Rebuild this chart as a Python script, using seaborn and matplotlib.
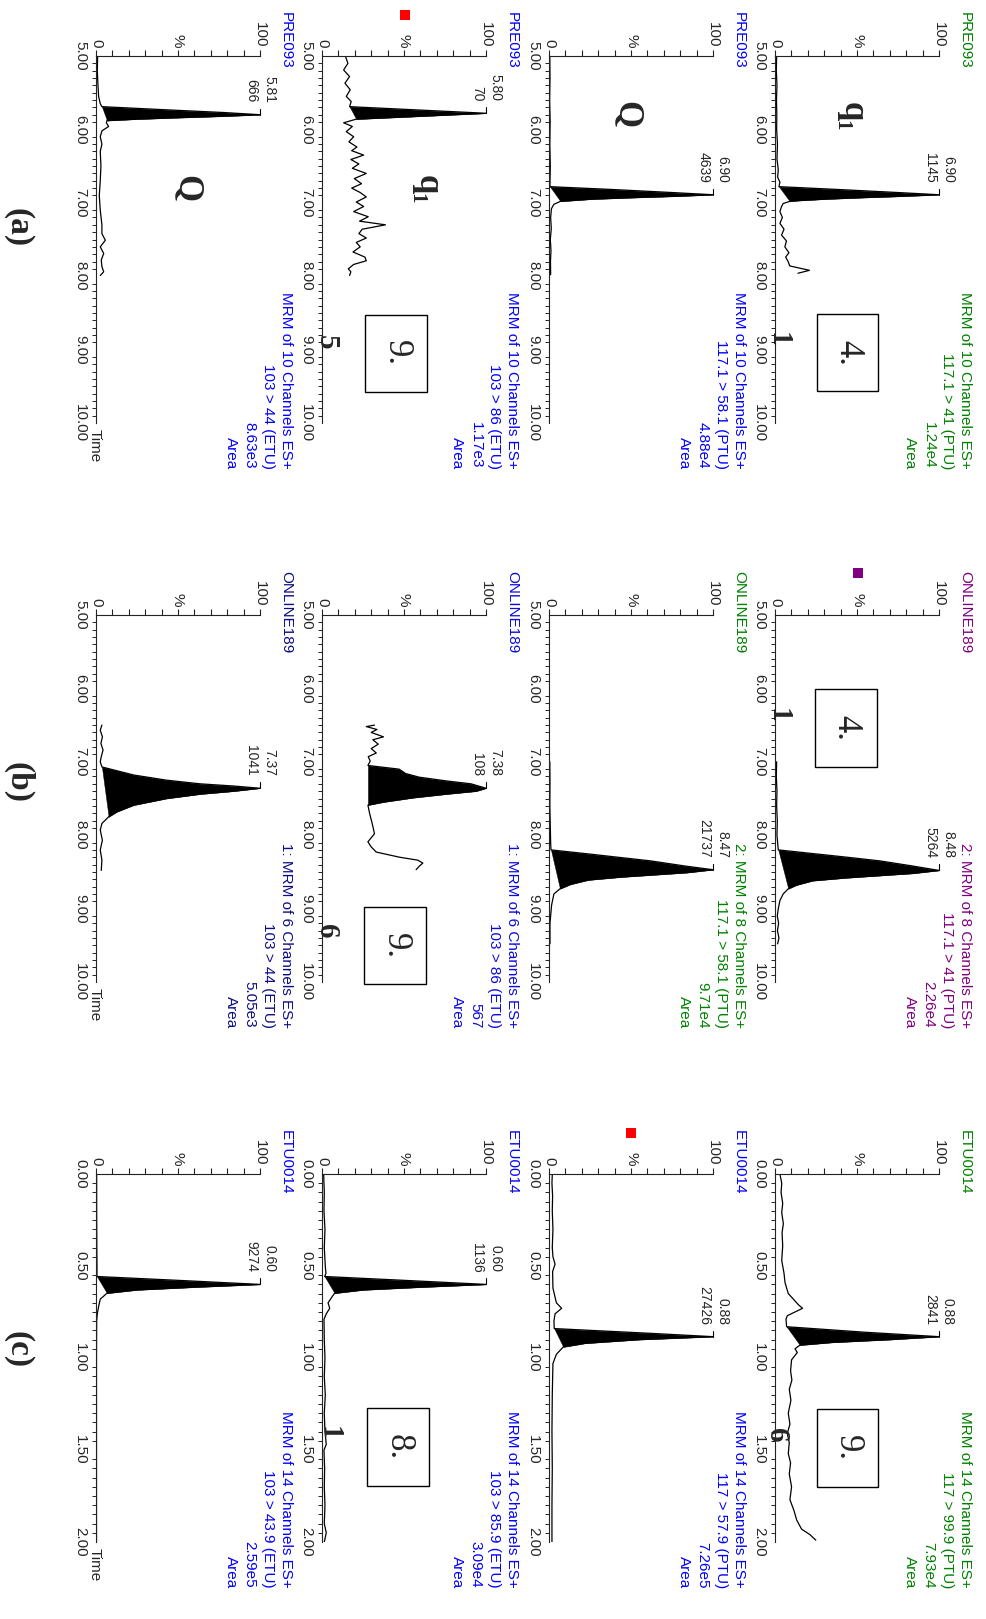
import numpy as np
import matplotlib
matplotlib.use("Agg")
import matplotlib.pyplot as plt
from matplotlib.patches import Rectangle
from matplotlib.ticker import MultipleLocator
import seaborn as sns

sns.set_style("white")
plt.rcParams['font.family'] = ['Liberation Sans', 'DejaVu Sans']

# ---------------- data ----------------
samples = ["PRE093", "ONLINE189", "ETU0014"]

hdr_a1 = ["MRM of 10 Channels ES+", "117.1 > 41 (PTU)", "1.24e4", "Area"]
hdr_a2 = ["MRM of 10 Channels ES+", "117.1 > 58.1 (PTU)", "4.88e4", "Area"]
hdr_a3 = ["MRM of 10 Channels ES+", "103 > 86 (ETU)", "1.17e3", "Area"]
hdr_a4 = ["MRM of 10 Channels ES+", "103 > 44 (ETU)", "8.63e3", "Area"]
hdr_b1 = ["2: MRM of 8 Channels ES+", "117.1 > 41 (PTU)", "2.26e4", "Area"]
hdr_b2 = ["2: MRM of 8 Channels ES+", "117.1 > 58.1 (PTU)", "9.71e4", "Area"]
hdr_b3 = ["1: MRM of 6 Channels ES+", "103 > 86 (ETU)", "567", "Area"]
hdr_b4 = ["1: MRM of 6 Channels ES+", "103 > 44 (ETU)", "5.05e3", "Area"]
hdr_c1 = ["MRM of 14 Channels ES+", "117 > 99.9 (PTU)", "7.93e4", "Area"]
hdr_c2 = ["MRM of 14 Channels ES+", "117 > 57.9 (PTU)", "7.26e5", "Area"]
hdr_c3 = ["MRM of 14 Channels ES+", "103 > 85.9 (ETU)", "3.09e4", "Area"]
hdr_c4 = ["MRM of 14 Channels ES+", "103 > 43.9 (ETU)", "2.59e5", "Area"]

peak_rt = ["6.90", "6.90", "5.80", "5.81", "8.48", "8.47", "7.38", "7.37",
           "0.88", "0.88", "0.60", "0.60"]
peak_val = ["1145", "4639", "70", "666", "5264", "21737", "108", "1041",
            "2841", "27426", "1136", "9274"]

# time (min) and relative intensity (%) of each trace
t_a1 = [5.00, 5.20, 5.40, 5.60, 5.80, 6.00, 6.20, 6.40, 6.55, 6.65, 6.72, 6.78, 6.82, 6.86,
        6.89, 6.91, 6.93, 6.95, 6.97, 6.98, 7.01, 7.05, 7.12, 7.20, 7.28, 7.36, 7.44, 7.52,
        7.60, 7.68, 7.74, 7.80, 7.86, 7.92, 7.96]
i_a1 = [1.0, 0.8, 1.2, 0.9, 1.1, 1.0, 1.5, 1.2, 2.0, 1.6, 3.0, 2.4, 40, 75,
        100, 78, 52, 30, 14, 9, 5, 4, 3, 4.5, 3, 5.5, 4, 7,
        6, 8.5, 6.5, 8, 9, 21, 14]
fill_a1 = [6.78, 6.98]

t_a2 = [5.00, 5.30, 5.60, 5.90, 6.20, 6.50, 6.70, 6.78, 6.82, 6.86, 6.89, 6.91, 6.93, 6.95,
        6.98, 7.02, 7.08, 7.20, 7.35, 7.50, 7.65, 7.80, 7.98]
i_a2 = [0.5, 0.6, 0.4, 0.7, 0.5, 0.8, 0.6, 0.6, 40, 75, 100, 78, 50, 26,
        7, 3, 1.5, 1.0, 1.4, 0.8, 1.2, 0.9, 1.0]
fill_a2 = [6.78, 6.98]

t_a3 = [5.01, 5.10, 5.19, 5.28, 5.37, 5.46, 5.55, 5.62, 5.69, 5.78, 5.86, 5.91, 5.96, 6.03,
        6.10, 6.17, 6.24, 6.29, 6.35, 6.41, 6.47, 6.53, 6.60, 6.67, 6.74, 6.80, 6.86, 6.92,
        6.99, 7.05, 7.12, 7.19, 7.25, 7.30, 7.36, 7.42, 7.48, 7.54, 7.60, 7.67, 7.74, 7.79,
        7.84, 7.90, 7.94, 7.99]
i_a3 = [14.4, 15.8, 13.2, 16.8, 14.0, 17.2, 14.8, 17.8, 16.8, 100, 20.9, 13.2, 18.5, 14.8,
        19.3, 16.4, 21.3, 18.1, 25.4, 17.6, 22.5, 18.5, 27.0, 19.7, 24.1, 18.1, 23.3, 27.0,
        20.9, 25.4, 19.3, 28.2, 22.9, 38.7, 24.5, 22.5, 27.0, 20.9, 23.3, 18.9, 26.2, 27.0,
        19.3, 16.0, 17.6, 16.8]
fill_a3 = [5.69, 5.86]

t_a4 = [5.00, 5.20, 5.40, 5.55, 5.65, 5.69, 5.73, 5.77, 5.80, 5.82, 5.84, 5.86, 5.88, 5.91,
        5.96, 6.02, 6.10, 6.20, 6.30, 6.50, 6.70, 6.90, 7.10, 7.30, 7.42, 7.51, 7.60, 7.69,
        7.78, 7.87, 7.94, 7.99]
i_a4 = [1.0, 0.8, 1.2, 1.6, 2.6, 3.6, 40, 78, 100, 78, 50, 25, 6.7, 6.3,
        7.7, 3.6, 2.6, 3.6, 2.6, 3.0, 2.6, 2.0, 2.6, 3.6, 3.6, 5.7, 2.6, 4.7,
        3.2, 3.6, 4.7, 2.6]
fill_a4 = [5.69, 5.88]

t_b1 = [7.00, 7.20, 7.40, 7.60, 7.80, 8.00, 8.10, 8.20, 8.25, 8.30, 8.35, 8.42, 8.48, 8.52,
        8.55, 8.58, 8.62, 8.68, 8.73, 8.80, 8.89, 9.00, 9.10, 9.20, 9.30, 9.40, 9.48]
i_b1 = [1.0, 0.8, 1.2, 1.0, 1.4, 1.2, 1.6, 2.0, 23, 44, 64, 84, 100, 84,
        64, 44, 23, 13, 8.1, 5, 3, 2.0, 1.4, 2.2, 1.5, 2.4, 1.6]
fill_b1 = [8.20, 8.73]

t_b2 = [7.00, 7.30, 7.60, 7.90, 8.10, 8.20, 8.25, 8.30, 8.35, 8.42, 8.47, 8.51, 8.54, 8.57,
        8.61, 8.67, 8.73, 8.80, 8.95, 9.20, 9.48]
i_b2 = [0.5, 0.6, 0.5, 0.8, 1.0, 1.2, 22, 42, 62, 83, 100, 84, 64, 44,
        24, 13, 6.7, 3.0, 1.6, 0.6, 0.6]
fill_b2 = [8.20, 8.73]

t_b3 = [6.50, 6.52, 6.56, 6.60, 6.66, 6.70, 6.76, 6.82, 6.88, 6.93, 6.99, 7.05, 7.10, 7.16,
        7.21, 7.26, 7.30, 7.36, 7.40, 7.44, 7.49, 7.55, 7.59, 7.70, 7.84, 7.98, 8.09, 8.16,
        8.23, 8.30, 8.34, 8.38, 8.42, 8.47]
i_b3 = [32.0, 27.0, 33.5, 30.0, 37.5, 31.0, 34.3, 30.0, 33.1, 28.2, 29.4, 28.0, 47.0, 51.0,
        59.4, 75.7, 90.9, 100, 94, 75.7, 55.4, 37.1, 28.0, 29.0, 30.6, 32.0, 28.0, 30.0,
        33.1, 47.3, 58.4, 61.5, 59.4, 57.4]
fill_b3 = [7.05, 7.59]

t_b4 = [6.50, 6.57, 6.66, 6.75, 6.84, 6.93, 7.00, 7.07, 7.18, 7.25, 7.30, 7.33, 7.36, 7.40,
        7.44, 7.50, 7.59, 7.68, 7.75, 7.84, 7.93, 8.07, 8.20, 8.34, 8.48]
i_b4 = [3.6, 2.6, 3.9, 3.0, 4.3, 3.2, 2.6, 3.6, 23, 43, 63.5, 84, 100, 84,
        63.5, 43, 23, 12.8, 7.7, 3.6, 2.6, 3.9, 2.6, 3.6, 3.2]
fill_b4 = [7.07, 7.75]

t_c1 = [0.00, 0.05, 0.10, 0.16, 0.21, 0.27, 0.32, 0.39, 0.47, 0.54, 0.59, 0.65, 0.68, 0.71,
        0.73, 0.75, 0.77, 0.79, 0.83, 0.86, 0.884, 0.90, 0.915, 0.93, 0.95, 0.97, 1.01, 1.07,
        1.12, 1.17, 1.23, 1.30, 1.36, 1.41, 1.46, 1.52, 1.57, 1.63, 1.70, 1.77, 1.83, 1.88,
        1.93, 1.96, 1.99]
i_c1 = [3.0, 4.1, 3.7, 4.7, 4.1, 5.1, 4.3, 4.7, 4.1, 5.5, 6.1, 8.1, 11.2, 14.2,
        16.8, 12.2, 7.5, 6.7, 7.1, 55, 100, 70, 35, 15.2, 12.2, 13.6, 10.1, 9.5,
        10.3, 8.7, 9.7, 8.1, 9.1, 7.5, 8.7, 8.1, 9.5, 8.7, 10.1, 9.1, 11.6, 13.2,
        16.2, 21.3, 24.9]
fill_c1 = [0.83, 0.93]

t_c2 = [0.00, 0.05, 0.12, 0.20, 0.30, 0.40, 0.45, 0.49, 0.53, 0.62, 0.70, 0.73, 0.76, 0.80,
        0.84, 0.865, 0.884, 0.90, 0.92, 0.94, 0.98, 1.03, 1.20, 1.40, 1.60, 1.80, 2.00]
i_c2 = [2.0, 1.8, 2.2, 2.0, 2.4, 2.0, 2.4, 3.7, 2.2, 2.4, 4.5, 7.7, 3.7, 3.0,
        3.2, 60, 100, 55, 22, 8.7, 4.5, 2.4, 2.0, 1.8, 2.0, 1.8, 1.8]
fill_c2 = [0.84, 0.94]

t_c3 = [0.00, 0.10, 0.20, 0.30, 0.40, 0.50, 0.54, 0.557, 0.58, 0.60, 0.615, 0.63, 0.648, 0.66,
        0.70, 0.73, 0.76, 0.79, 0.90, 1.00, 1.10, 1.20, 1.30, 1.40, 1.47, 1.50, 1.60, 1.70,
        1.80, 1.90, 1.95, 2.00]
i_c3 = [1.0, 1.4, 1.2, 1.8, 1.4, 2.0, 2.4, 1.6, 55, 100, 60, 25, 7.7, 6.7,
        3.7, 4.7, 2.6, 1.2, 1.4, 1.8, 1.4, 2.0, 1.4, 1.8, 2.6, 1.2, 1.6, 1.4,
        1.8, 1.4, 2.6, 1.4]
fill_c3 = [0.557, 0.648]

t_c4 = [0.00, 0.20, 0.40, 0.50, 0.557, 0.58, 0.60, 0.615, 0.63, 0.648, 0.68, 0.72, 0.76, 0.80,
        1.00, 1.50, 2.00]
i_c4 = [0.4, 0.4, 0.5, 0.6, 0.6, 55, 100, 60, 25, 6.7, 2.6, 1.6, 0.8, 0.4,
        0.3, 0.3, 0.3]
fill_c4 = [0.557, 0.648]

time_ranges = [(5.0, 10.0, 1.0, 0.1), (5.0, 10.0, 1.0, 0.1), (0.0, 2.0, 0.5, 0.05)]

# ---------------- layout ----------------
W, H = 986, 1619
fig = plt.figure(figsize=(W / 100, H / 100), dpi=100)

col_top = [56, 615, 1174]
col_h = [367, 367, 368]
row_x0 = [775, 549, 322, 96]
AX_W = 164

GREEN, BLUE, PURPLE, NAVY = "#008000", "#0000ff", "#800080", "#0c0c86"

traces = [
    [(t_a1, i_a1, fill_a1, hdr_a1, GREEN), (t_a2, i_a2, fill_a2, hdr_a2, BLUE),
     (t_a3, i_a3, fill_a3, hdr_a3, BLUE), (t_a4, i_a4, fill_a4, hdr_a4, BLUE)],
    [(t_b1, i_b1, fill_b1, hdr_b1, PURPLE), (t_b2, i_b2, fill_b2, hdr_b2, GREEN),
     (t_b3, i_b3, fill_b3, hdr_b3, "#0a0ae0"), (t_b4, i_b4, fill_b4, hdr_b4, NAVY)],
    [(t_c1, i_c1, fill_c1, hdr_c1, GREEN), (t_c2, i_c2, fill_c2, hdr_c2, BLUE),
     (t_c3, i_c3, fill_c3, hdr_c3, BLUE), (t_c4, i_c4, fill_c4, hdr_c4, BLUE)],
]


def rtext(px, py, s, ha="left", va="center", **kw):
    return fig.text(px / W, 1 - py / H, s, rotation=-90, rotation_mode="anchor",
                    ha=ha, va=va, **kw)


SERIF = ['Liberation Serif', 'DejaVu Serif']

k = 0
for c in range(3):
    tmin, tmax, tstep, tminor = time_ranges[c]
    ytop, h = col_top[c], col_h[c]
    for r in range(4):
        times, ints, fr, hdr, color = traces[c][r]
        x0 = row_x0[r]
        ax = fig.add_axes([x0 / W, 1 - (ytop + h) / H, AX_W / W, h / H])
        ax.patch.set_alpha(0)
        sns.lineplot(x=ints, y=times, orient="y", sort=False, estimator=None,
                     color="black", lw=0.9, ax=ax)
        t = np.array(times, float)
        v = np.array(ints, float)
        m = (t >= fr[0] - 1e-9) & (t <= fr[1] + 1e-9)
        v0 = v[np.argmin(abs(t - fr[0]))]
        v1 = v[np.argmin(abs(t - fr[1]))]
        base = v0 + (t[m] - fr[0]) * (v1 - v0) / (fr[1] - fr[0])
        ax.fill_betweenx(t[m], base, v[m], color="black", lw=0.3)

        ax.set_xlim(0, 100)
        ax.set_ylim(tmax, tmin)
        ax.set_xlabel("")
        ax.set_ylabel("")
        for s in ("right", "bottom"):
            ax.spines[s].set_visible(False)
        for s in ("left", "top"):
            ax.spines[s].set_linewidth(0.8)
            ax.spines[s].set_color("#222222")

        # time axis
        yt = np.round(np.arange(tmin, tmax + 1e-6, tstep), 2)
        ax.set_yticks(yt, [f"{x:.2f}" for x in yt], rotation=-90, va="center",
                      ha="right", fontsize=11)
        ax.yaxis.set_minor_locator(MultipleLocator(tminor))
        ax.tick_params(axis="y", which="major", direction="out", length=5, width=0.8,
                       pad=1.5, color="#222222")
        ax.tick_params(axis="y", which="minor", direction="out", length=3, width=0.7,
                       color="#222222", left=True)

        # intensity axis
        ax.xaxis.set_ticks_position("top")
        xt = np.arange(0, 101, 10)
        xl = ["0", "", "", "", "", "%", "", "", "", "", "100"]
        ax.set_xticks(xt, xl, rotation=-90, fontsize=11)
        ax.tick_params(axis="x", which="major", direction="out", length=4, width=0.8,
                       pad=2, top=True, bottom=False, labeltop=True, labelbottom=False,
                       color="#222222")

        # peak label with its small marker
        ip = int(np.argmax(v))
        dt = 6 * (tmax - tmin) / h
        ax.plot([v[ip], v[ip]], [t[ip], t[ip] - dt], color="black", lw=0.8,
                clip_on=False)
        ax.annotate(peak_rt[k], xy=(v[ip], t[ip]), xytext=(9, 12),
                    textcoords="offset pixels", rotation=-90, rotation_mode="anchor",
                    ha="right", va="center", fontsize=10, annotation_clip=False)
        ax.annotate(peak_val[k], xy=(v[ip], t[ip]), xytext=(-9, 12),
                    textcoords="offset pixels", rotation=-90, rotation_mode="anchor",
                    ha="right", va="center", fontsize=10, annotation_clip=False)
        k += 1

        # headers
        rtext(x0 + 190, ytop - 44, samples[c], ha="left", va="center",
              fontsize=11, color=color)
        for i, line in enumerate(hdr):
            rtext(x0 + 190 - i * 18.3, ytop + h + 46, line, ha="right", va="center",
                  fontsize=11, color=color)
        if r == 3:
            rtext(x0 - 1, ytop + h + 6, "Time", ha="left", va="center", fontsize=11)

# panel letters
for txt, py in [("(a)", 228), ("(b)", 782), ("(c)", 1350)]:
    rtext(18, py, txt, ha="center", va="center", fontsize=24, fontweight="bold",
          family=SERIF)

# big letters
for px, py, s in [(852, 117, "q\u2081"), (627, 115, "Q"), (427, 190, "q\u2081"),
                  (187, 189, "Q")]:
    rtext(px, py, s, ha="center", va="center", fontsize=25, fontweight="bold",
          family=SERIF)

# boxes
for (xa, xb, ya, yb, s) in [(817, 878, 314, 391, "4."), (365, 427, 315, 392, "9."),
                            (815, 877, 689, 767, "4."), (364, 426, 907, 984, "9."),
                            (817, 878, 1409, 1487, "9."), (367, 429, 1408, 1486, "8.")]:
    fig.add_artist(Rectangle((xa / W, 1 - yb / H), (xb - xa) / W, (yb - ya) / H,
                             transform=fig.transFigure, fill=False, lw=1.0,
                             edgecolor="black"))
    rtext((xa + xb) / 2, (ya + yb) / 2, s, ha="center", va="center", fontsize=25,
          family=SERIF)

# bold digits near the time axis
for px, py, s in [(778, 339, "1"), (326, 342, "5"), (778, 715, "1"), (326, 931, "6"),
                  (776, 1435, "6"), (329, 1433, "1")]:
    rtext(px, py, s, ha="center", va="center", fontsize=21, fontweight="bold",
          family=SERIF)

# small coloured squares
for px, py, col in [(405, 15, "#ff0000"), (858, 573, "#800080"), (631, 1133, "#ff0000")]:
    fig.add_artist(Rectangle(((px - 5) / W, 1 - (py + 5) / H), 10 / W, 10 / H,
                             transform=fig.transFigure, color=col, lw=0))

fig.savefig("out.png", dpi=100)
